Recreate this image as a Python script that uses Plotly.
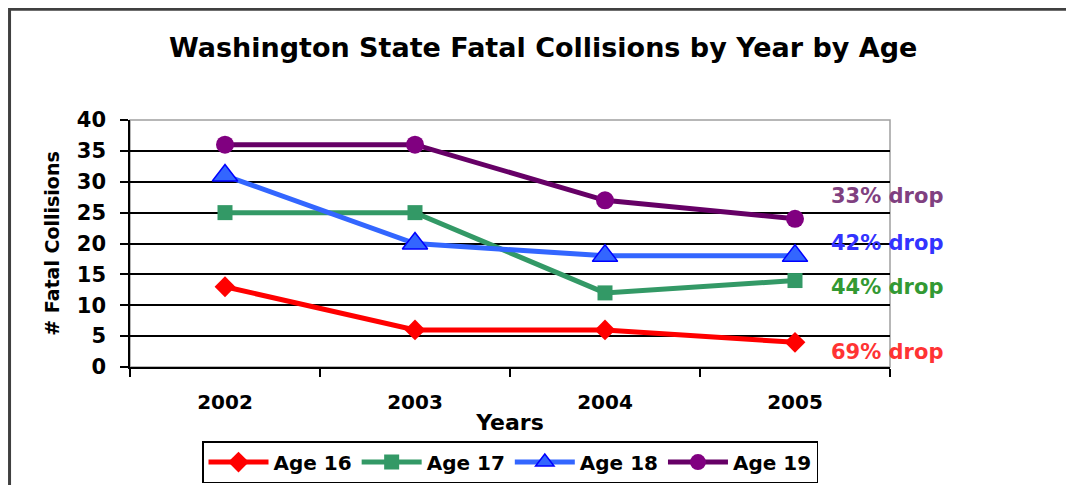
import plotly.graph_objects as go

years = ["2002", "2003", "2004", "2005"]
age16 = [13, 6, 6, 4]
age17 = [25, 25, 12, 14]
age18 = [31, 20, 18, 18]
age19 = [36, 36, 27, 24]
series_names = ["Age 16", "Age 17", "Age 18", "Age 19"]
drop_labels = ["69% drop", "44% drop", "42% drop", "33% drop"]
drop_y = [2.5, 12.9, 20.05, 27.7]

FONT = "DejaVu Sans"

fig = go.Figure()
styles = [
    dict(line=dict(color="#FF0000", width=5), marker=dict(symbol="diamond", size=16, color="#FF0000")),
    dict(line=dict(color="#339966", width=5), marker=dict(symbol="square", size=15, color="#339966")),
    dict(line=dict(color="#3366FF", width=5), marker=dict(symbol="triangle-up", size=22, color="#3366FF",
                                                        line=dict(color="#0000FF", width=1.5))),
    dict(line=dict(color="#660066", width=5), marker=dict(symbol="circle", size=18, color="#800080")),
]
for name, vals, st in zip(series_names, [age16, age17, age18, age19], styles):
    fig.add_trace(go.Scatter(x=years, y=vals, name=name, mode="lines+markers", **st))

drop_colors = ["#FF3333", "#339933", "#3333FF", "#804080"]
for txt, yv, c in zip(drop_labels, drop_y, drop_colors):
    fig.add_annotation(x=3.18, y=yv, xref="x", yref="y", text=txt, showarrow=False,
                       xanchor="left", yanchor="middle",
                       font=dict(family=FONT, size=21, color=c, weight="bold"))

# plot frame (gray) and outer chart border
fig.add_shape(type="rect", xref="paper", yref="paper", x0=0, x1=1, y0=0, y1=1,
              line=dict(color="#A0A0A0", width=1.5), layer="below")
fig.add_shape(type="rect", xref="paper", yref="paper", x0=-0.1585, x1=1.3, y0=-0.6, y1=1.448,
              line=dict(color="#404040", width=3))

fig.update_layout(
    width=1066, height=477,
    margin=dict(l=122, r=184, t=112, b=118, autoexpand=False),
    paper_bgcolor="white", plot_bgcolor="white",
    title=dict(text="Washington State Fatal Collisions by Year by Age", x=0.502, xanchor="center",
               y=0.918, yanchor="middle",
               font=dict(family=FONT, size=27, color="black", weight="bold")),
    xaxis=dict(type="category", tickson="boundaries", ticks="outside", ticklen=8, tickwidth=1.5,
               tickcolor="black", showline=True, linecolor="black", linewidth=1.5,
               showgrid=False, ticklabelstandoff=16, range=[-0.5, 3.5],
               tickfont=dict(family=FONT, size=20, color="black", weight="bold"),
               title=dict(text="Years", standoff=2,
                          font=dict(family=FONT, size=22, color="black", weight="bold"))),
    yaxis=dict(range=[0, 40], tickvals=[0, 5, 10, 15, 20, 25, 30, 35, 40], ticks="outside", ticklen=8,
               tickwidth=1.5, tickcolor="black", showline=True, linecolor="black", linewidth=1.5,
               showgrid=True, gridcolor="black", gridwidth=1.5, zeroline=False, ticklabelstandoff=10,
               tickfont=dict(family=FONT, size=21, color="black", weight="bold"),
               title=dict(text="# Fatal Collisions", standoff=12,
                          font=dict(family=FONT, size=19, color="black", weight="bold"))),
    legend=dict(orientation="h", x=0.5, xanchor="center", y=-0.30, yanchor="top",
                bordercolor="black", borderwidth=1.5, bgcolor="white", itemwidth=60,
                font=dict(family=FONT, size=20, color="black", weight="bold"),
                tracegroupgap=0, itemsizing="trace"),
    showlegend=True,
)

fig.write_html("out.html")
